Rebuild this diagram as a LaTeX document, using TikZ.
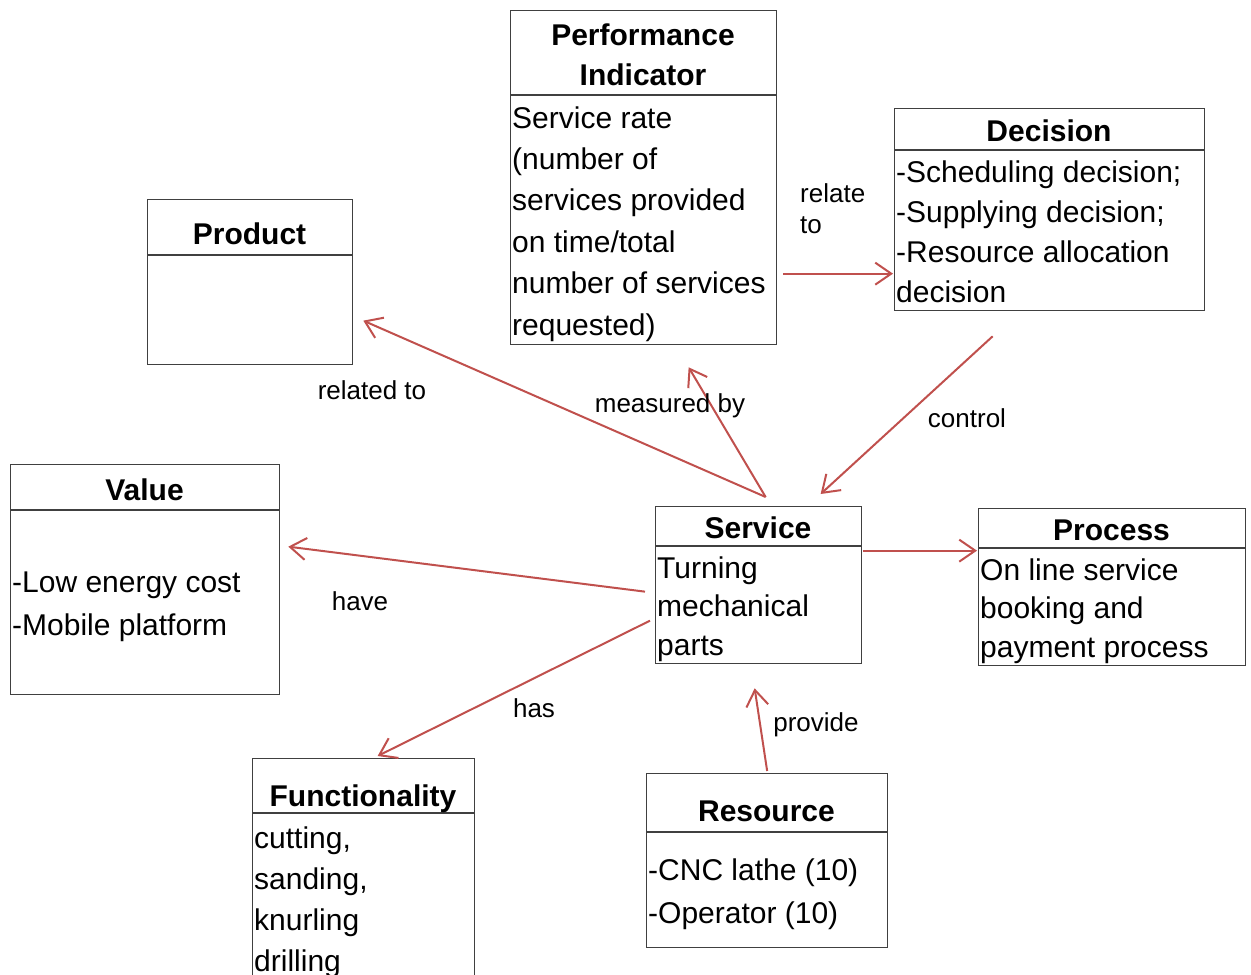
\documentclass[tikz,border=0pt]{standalone}
\usepackage{fontspec}
\setmainfont{Liberation Sans}
\usetikzlibrary{arrows.meta}
\definecolor{linkred}{HTML}{C0504D}
\definecolor{framegray}{HTML}{404040}
% multi-line text block whose reference point is the first baseline
\newcommand\txtlines[3]{\parbox[t]{420pt}{\fontsize{#1}{#2}\selectfont\raggedright #3}}

\begin{document}
\begin{tikzpicture}[x=1pt,y=-1pt,
  box/.style={draw=framegray, line width=1.3pt, rectangle, inner sep=0pt, anchor=north west},
  divider/.style={draw=framegray, line width=1.3pt},
  title/.style={font=\fontsize{30}{36}\selectfont\bfseries, anchor=base, inner sep=0pt},
  body/.style={anchor=base west, inner sep=0pt},
  lbl/.style={font=\fontsize{26}{31}\selectfont, anchor=base, inner sep=0pt},
  link/.style={draw=linkred, line width=2pt, -{Straight Barb[length=16pt,width=22pt]}}]
\useasboundingbox (0,0) rectangle (1251,975);
\clip (0,0) rectangle (1251,975);

% ---- class boxes ----
\node[box, minimum width=266pt, minimum height=334pt] (perf) at (510,10) {};
\draw[divider] ([yshift=-85pt]perf.north west) -- ([yshift=-85pt]perf.north east);
\node[title] (perfT1) at (643,45) {Performance};
\node[title] (perfT2) at (643,85) {Indicator};
\node[body] (perfB) at (512,128) {\txtlines{30}{41.4}{Service rate\\(number of\\services provided\\on time/total\\number of services\\requested)}};

\node[box, minimum width=310pt, minimum height=202pt] (decision) at (894,108) {};
\draw[divider] ([yshift=-42pt]decision.north west) -- ([yshift=-42pt]decision.north east);
\node[title] (decisionT) at (1049,141) {Decision};
\node[body] (decisionB) at (896,182) {\txtlines{30}{40}{-Scheduling decision;\\-Supplying decision;\\-Resource allocation\\decision}};

\node[box, minimum width=205pt, minimum height=165pt] (product) at (147,199) {};
\draw[divider] ([yshift=-56pt]product.north west) -- ([yshift=-56pt]product.north east);
\node[title] (productT) at (249.5,244) {Product};

\node[box, minimum width=269pt, minimum height=230pt] (value) at (10,464) {};
\draw[divider] ([yshift=-46pt]value.north west) -- ([yshift=-46pt]value.north east);
\node[title] (valueT) at (144.5,500) {Value};
\node[body] (valueB) at (12,592) {\txtlines{30}{43}{-Low energy cost\\-Mobile platform}};

\node[box, minimum width=206pt, minimum height=157pt] (service) at (655,506) {};
\draw[divider] ([yshift=-40pt]service.north west) -- ([yshift=-40pt]service.north east);
\node[title] (serviceT) at (758,538) {Service};
\node[body] (serviceB) at (657,578) {\txtlines{30}{38.5}{Turning\\mechanical\\parts}};

\node[box, minimum width=267pt, minimum height=157pt] (process) at (978,508) {};
\draw[divider] ([yshift=-40pt]process.north west) -- ([yshift=-40pt]process.north east);
\node[title] (processT) at (1111.5,540) {Process};
\node[body] (processB) at (980,580) {\txtlines{30}{38.5}{On line service\\booking and\\payment process}};

\node[box, minimum width=222pt, minimum height=240pt] (func) at (252,758) {};
\draw[divider] ([yshift=-55pt]func.north west) -- ([yshift=-55pt]func.north east);
\node[title] (funcT) at (363,806) {Functionality};
\node[body] (funcB) at (254,848) {\txtlines{30}{41}{cutting,\\sanding,\\knurling\\drilling}};

\node[box, minimum width=241pt, minimum height=174pt] (resource) at (646,773) {};
\draw[divider] ([yshift=-59pt]resource.north west) -- ([yshift=-59pt]resource.north east);
\node[title] (resourceT) at (766.5,821) {Resource};
\node[body] (resourceB) at (648,880) {\txtlines{30}{43}{-CNC lathe (10)\\-Operator (10)}};

% ---- associations ----
\draw[link] ([xshift=6pt,yshift=-96pt]perf.east) -- ([xshift=-1pt,yshift=-64pt]decision.west);
\draw[link] ([xshift=7pt,yshift=9pt]service.north) -- ([xshift=45pt,yshift=-22pt]perf.south);
\draw[link] ([xshift=7pt,yshift=9pt]service.north) -- ([xshift=10pt,yshift=-38.5pt]product.east);
\draw[link] ([xshift=-57pt,yshift=-25pt]decision.south) -- ([xshift=62pt,yshift=12pt]service.north);
\draw[link] ([xshift=-10pt,yshift=-6.5pt]service.west) -- ([xshift=8pt,yshift=33pt]value.east);
\draw[link] ([xshift=-5pt,yshift=-35.5pt]service.west) -- ([xshift=14pt,yshift=2pt]func.north);
\draw[link] ([xshift=1pt,yshift=34.5pt]service.east) -- ([xshift=-1pt,yshift=36.5pt]process.west);
\draw[link] ([yshift=2pt]resource.north) -- ([xshift=-4pt,yshift=-24pt]service.south);

% ---- association labels ----
\node[anchor=base west, inner sep=0pt] (lblRelate) at (800,202) {\txtlines{26}{31}{relate\\to}};
\node[lbl] (lblRelated) at (372,399) {related to};
\node[lbl] (lblMeasured) at (670,412) {measured by};
\node[lbl] (lblControl) at (967,427) {control};
\node[lbl] (lblHave) at (360,610) {have};
\node[lbl] (lblHas) at (534,717) {has};
\node[lbl] (lblProvide) at (816,731) {provide};
\end{tikzpicture}
\end{document}
